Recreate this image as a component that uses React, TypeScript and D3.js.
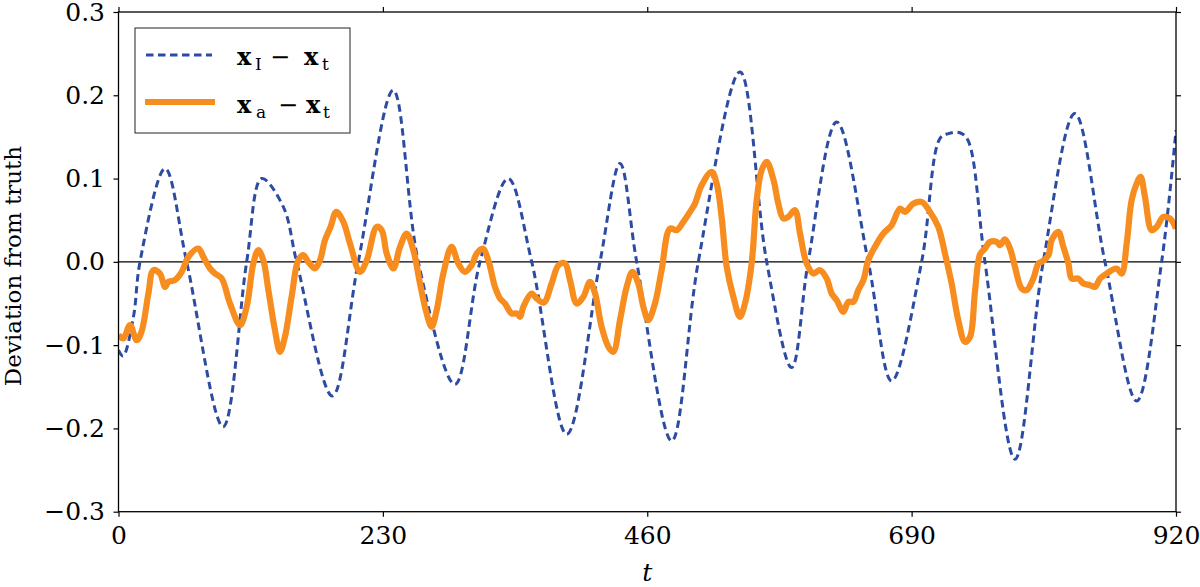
import * as React from "react";
import * as d3 from "d3";

// x_I - x_t (dashed blue) at turning points and zero crossings
const blueT = [0, 4, 13, 18.7, 40.5, 59.3, 91, 111.5, 124.6, 143.4, 155, 186, 208.6, 239, 260.8, 292.7, 314.5, 339, 359.5, 390, 418.9, 436.3, 450.8, 481.2, 504.4, 540.7, 563.9, 585.6, 600, 624.8, 652.3, 672.6, 698.7, 714.6, 722, 732, 739, 753.8, 779.9, 804.5, 832, 858.2, 885.8, 907.5, 920];
const blueV = [-0.106, -0.113, -0.066, 0, 0.112, 0, -0.198, 0, 0.1, 0.066, 0, -0.161, 0, 0.206, 0, -0.147, 0, 0.1, 0, -0.207, 0, 0.118, 0, -0.215, 0, 0.228, 0, -0.127, 0, 0.168, 0, -0.143, 0, 0.148, 0.154, 0.155, 0.146, 0, -0.237, 0, 0.178, 0, -0.167, 0, 0.158];

// x_a - x_t (thick orange)
const orangeT = [0, 4.2, 10, 15.8, 20, 26, 30.3, 36, 40.5, 43.4, 49, 55, 60.8, 69.4, 73.8, 79.6, 84, 89.8, 97, 105.7, 111.5, 117.3, 121.6, 126, 130.4, 136.1, 140.5, 144.8, 150.6, 156.4, 160.8, 165.1, 170.9, 175.3, 179.6, 184.5, 189.5, 195.6, 201.4, 210.1, 216, 224.6, 229, 233.3, 239.1, 244.9, 250.7, 256.5, 262.3, 268.1, 272.4, 276.8, 282.6, 289.8, 295.6, 301.4, 307.2, 311.6, 316.8, 321.7, 327.5, 331.9, 336.2, 342, 346.4, 349.3, 352.2, 359.4, 363.8, 370, 376.8, 382.8, 388.4, 392.8, 398.6, 404.4, 410.2, 414.6, 420.3, 426.2, 430.5, 436.3, 442.1, 447.1, 452.2, 456.6, 460.9, 466.7, 472.5, 479.8, 485.6, 491.4, 497.2, 501.5, 507.3, 516, 520.4, 524.7, 529.1, 534.9, 540.6, 545, 550.8, 555.2, 559.5, 563.9, 569.9, 574, 578.4, 582.7, 588.5, 592.9, 598.7, 604.5, 610.3, 616.1, 620.4, 624.8, 630.6, 634.9, 639.3, 643.6, 648, 652.3, 658.1, 665.4, 672.6, 679.9, 684.2, 691.6, 698.7, 706, 713.2, 719, 724.8, 730.6, 736.4, 740.8, 745.1, 749.5, 753.8, 758.2, 764, 766.9, 771.2, 775.6, 779.9, 785.7, 790.1, 795.9, 800.3, 803.2, 809, 811.8, 817.6, 822, 826.4, 829.2, 835, 839.4, 845.2, 849.5, 853.9, 859.7, 868.3, 872.7, 877.1, 881.4, 885.8, 889.2, 893, 898.8, 903.2, 909, 914.8, 920];
const orangeV = [-0.088, -0.092, -0.076, -0.094, -0.084, -0.038, -0.01, -0.014, -0.03, -0.024, -0.022, -0.012, 0.006, 0.016, 0.006, -0.008, -0.014, -0.02, -0.05, -0.076, -0.054, -0.002, 0.014, 0.002, -0.034, -0.082, -0.108, -0.09, -0.042, 0.002, 0.008, 0, -0.008, 0.002, 0.026, 0.042, 0.06, 0.048, 0.022, -0.012, 0.002, 0.042, 0.038, 0.01, -0.008, 0.018, 0.034, 0.014, -0.026, -0.062, -0.078, -0.058, -0.014, 0.018, -0.002, -0.012, -0.004, 0.01, 0.016, 0.002, -0.03, -0.044, -0.05, -0.062, -0.062, -0.066, -0.054, -0.038, -0.044, -0.049, -0.026, -0.004, -0.002, -0.022, -0.05, -0.042, -0.024, -0.038, -0.078, -0.102, -0.108, -0.07, -0.03, -0.012, -0.026, -0.054, -0.07, -0.05, -0.01, 0.04, 0.038, 0.048, 0.06, 0.07, 0.092, 0.108, 0.094, 0.054, -0.006, -0.042, -0.066, -0.05, -0.002, 0.074, 0.11, 0.12, 0.098, 0.07, 0.052, 0.054, 0.062, 0.034, -0.002, -0.014, -0.01, -0.02, -0.038, -0.046, -0.06, -0.048, -0.048, -0.034, -0.022, 0.002, 0.018, 0.034, 0.044, 0.064, 0.06, 0.07, 0.072, 0.06, 0.042, 0.01, -0.026, -0.07, -0.096, -0.09, -0.036, 0.009, 0.016, 0.024, 0.024, 0.02, 0.027, 0.016, -0.006, -0.032, -0.034, -0.02, -0.002, 0, 0.008, 0.026, 0.036, 0.018, -0.002, -0.02, -0.02, -0.026, -0.028, -0.03, -0.02, -0.014, -0.008, -0.014, 0.022, 0.074, 0.094, 0.102, 0.078, 0.038, 0.042, 0.054, 0.052, 0.04];

const xTicks = [0, 230, 460, 690, 920];
const yTicks = [-0.3, -0.2, -0.1, 0, 0.1, 0.2, 0.3];

const W = 1200;
const H = 587;
const left = 118.5, right = 1176, top = 12, bottom = 511.7;
const font = "'DejaVu Serif', serif";
const blue = "#2c4ba3";
const orange = "#f78c1f";

function drawChart(svgEl: SVGSVGElement) {
  const svg = d3.select(svgEl);
  svg.selectAll("*").remove();

  const x = d3.scaleLinear().domain([0, 920]).range([left, right]);
  const y = d3.scaleLinear().domain([-0.3, 0.3]).range([bottom, top]);

  svg.append("defs").append("clipPath").attr("id", "plotclip")
    .append("rect")
    .attr("x", left).attr("y", top)
    .attr("width", right - left).attr("height", bottom - top);

  // zero line
  svg.append("line")
    .attr("x1", left).attr("x2", right)
    .attr("y1", y(0)).attr("y2", y(0))
    .attr("stroke", "#000").attr("stroke-width", 1.4);

  const line = d3.line<[number, number]>()
    .x((d) => x(d[0]))
    .y((d) => y(d[1]))
    .curve(d3.curveCatmullRom.alpha(0.5));

  const plot = svg.append("g").attr("clip-path", "url(#plotclip)");

  plot.append("path")
    .datum(d3.zip(blueT, blueV) as [number, number][])
    .attr("d", line)
    .attr("fill", "none")
    .attr("stroke", blue)
    .attr("stroke-width", 3)
    .attr("stroke-dasharray", "7.5,4.5");

  plot.append("path")
    .datum(d3.zip(orangeT, orangeV) as [number, number][])
    .attr("d", line)
    .attr("fill", "none")
    .attr("stroke", orange)
    .attr("stroke-width", 6.2)
    .attr("stroke-linejoin", "round");

  // axes, ticks outward on all four sides
  const styleAxis = (g: d3.Selection<SVGGElement, unknown, null, undefined>) => {
    g.select(".domain").remove();
    g.selectAll(".tick line").attr("stroke", "#000").attr("stroke-width", 1.2);
    g.selectAll(".tick text")
      .attr("fill", "#000")
      .style("font-family", font)
      .style("font-size", "25px");
  };

  svg.append("g")
    .attr("transform", `translate(0,${bottom})`)
    .call(d3.axisBottom(x).tickValues(xTicks).tickSize(5).tickPadding(10).tickFormat(d3.format("d")))
    .call(styleAxis);

  svg.append("g")
    .attr("transform", `translate(${left},0)`)
    .call(d3.axisLeft(y).tickValues(yTicks).tickSize(5).tickPadding(8.5).tickFormat(d3.format(".1f")))
    .call(styleAxis);

  svg.append("g")
    .attr("transform", `translate(0,${top})`)
    .call(d3.axisTop(x).tickValues(xTicks).tickSize(5).tickFormat(() => ""))
    .call(styleAxis);

  svg.append("g")
    .attr("transform", `translate(${right},0)`)
    .call(d3.axisRight(y).tickValues(yTicks).tickSize(5).tickFormat(() => ""))
    .call(styleAxis);

  svg.append("rect")
    .attr("x", left).attr("y", top)
    .attr("width", right - left).attr("height", bottom - top)
    .attr("fill", "none").attr("stroke", "#000").attr("stroke-width", 1.3);

  // axis labels
  svg.append("text")
    .attr("x", (left + right) / 2).attr("y", 581)
    .attr("text-anchor", "middle")
    .style("font-family", font).style("font-size", "25px").style("font-style", "italic")
    .text("t");

  svg.append("text")
    .attr("transform", `translate(21,266) rotate(-90)`)
    .attr("text-anchor", "middle")
    .style("font-family", font).style("font-size", "23px")
    .text("Deviation from truth");

  // legend
  const lg = svg.append("g");
  lg.append("rect")
    .attr("x", 135).attr("y", 28).attr("width", 215).attr("height", 105)
    .attr("fill", "#fff").attr("stroke", "#222").attr("stroke-width", 1);
  lg.append("line")
    .attr("x1", 146).attr("x2", 212).attr("y1", 55).attr("y2", 55)
    .attr("stroke", blue).attr("stroke-width", 3).attr("stroke-dasharray", "7.5,4.5");
  lg.append("line")
    .attr("x1", 145).attr("x2", 215).attr("y1", 102).attr("y2", 102)
    .attr("stroke", orange).attr("stroke-width", 6.2);

  const rows = [
    { base: 65, sub: "I", subX: 255, minusX: 270, x2: 304, tX: 322 },
    { base: 113, sub: "a", subX: 256, minusX: 278, x2: 306, tX: 323 },
  ];
  rows.forEach((r) => {
    const t = (px: number, py: number, s: string, size: number, bold = false) =>
      lg.append("text")
        .attr("x", px).attr("y", py)
        .style("font-family", font).style("font-size", `${size}px`)
        .style("font-weight", bold ? "bold" : "normal")
        .text(s);
    t(237, r.base, "x", 24, true);
    t(r.subX, r.base + 5, r.sub, 17);
    t(r.minusX, r.base, "\u2212", 24);
    t(r.x2, r.base, "x", 24, true);
    t(r.tX, r.base + 5, "t", 17);
  });
}

const App: React.FunctionComponent = () => {
  const svg = React.useRef<SVGSVGElement>(null);
  React.useEffect(() => {
    if (svg.current) drawChart(svg.current);
  }, []);

  return (
    <svg
      ref={svg}
      width={W}
      height={H}
      style={{ position: "absolute", left: 0, top: 0, background: "#fff" }}
    />
  );
};

export default App;
